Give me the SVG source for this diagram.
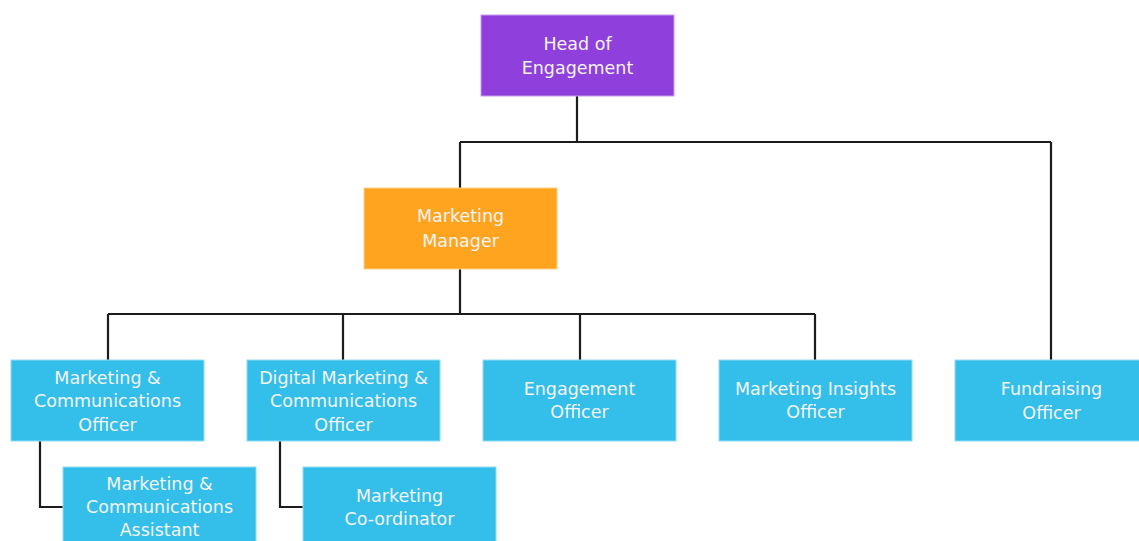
<svg xmlns="http://www.w3.org/2000/svg" width="1139" height="541" viewBox="0 0 1139 541">
  <style>
    .box { stroke-width: 1; }
    .head { fill: #8f40dc; stroke: #c69bf0; }
    .mgr { fill: #ffa41f; stroke: #ffd08a; }
    .staff { fill: #33bfea; stroke: #8fdcf5; }
    .label { font-family: "DejaVu Sans", "Liberation Sans", sans-serif; font-size: 17.5px; fill: #f4f4f4; text-anchor: middle; dominant-baseline: central; }
    .link { fill: none; stroke: #1c1c1c; stroke-width: 2.2; }
  </style>
  <rect width="1139" height="541" fill="#ffffff"/>

  <!-- reporting lines -->
  <g id="connectors">
    <path class="link" d="M577 96 V142 M460 142 H1051 M460 142 V188 M1051 142 V360"/>
    <path class="link" d="M460 269 V314 M108 314 H815 M108 314 V360 M343 314 V360 M580 314 V360 M815 314 V360"/>
    <path class="link" d="M40 441 V507 H63"/>
    <path class="link" d="M280 441 V507 H303"/>
  </g>

  <g id="head-of-engagement">
    <rect class="box head" x="481" y="15" width="193" height="81"/>
    <text class="label" x="577.5" y="44">Head of</text>
    <text class="label" x="577.5" y="68">Engagement</text>
  </g>

  <g id="marketing-manager">
    <rect class="box mgr" x="364" y="188" width="193" height="81"/>
    <text class="label" x="460.5" y="216">Marketing</text>
    <text class="label" x="460.5" y="241">Manager</text>
  </g>

  <g id="marcomms-officer">
    <rect class="box staff" x="11" y="360" width="193" height="81"/>
    <text class="label" x="107.5" y="378">Marketing &amp;</text>
    <text class="label" x="107.5" y="401">Communications</text>
    <text class="label" x="107.5" y="425">Officer</text>
  </g>

  <g id="digital-marcomms-officer">
    <rect class="box staff" x="247" y="360" width="193" height="81"/>
    <text class="label" x="343.5" y="378">Digital Marketing &amp;</text>
    <text class="label" x="343.5" y="401">Communications</text>
    <text class="label" x="343.5" y="425">Officer</text>
  </g>

  <g id="engagement-officer">
    <rect class="box staff" x="483" y="360" width="193" height="81"/>
    <text class="label" x="579.5" y="389">Engagement</text>
    <text class="label" x="579.5" y="412">Officer</text>
  </g>

  <g id="marketing-insights-officer">
    <rect class="box staff" x="719" y="360" width="193" height="81"/>
    <text class="label" x="815.5" y="389">Marketing Insights</text>
    <text class="label" x="815.5" y="412">Officer</text>
  </g>

  <g id="fundraising-officer">
    <rect class="box staff" x="955" y="360" width="193" height="81"/>
    <text class="label" x="1051.5" y="389">Fundraising</text>
    <text class="label" x="1051.5" y="413">Officer</text>
  </g>

  <g id="marcomms-assistant">
    <rect class="box staff" x="63" y="467" width="193" height="81"/>
    <text class="label" x="159.5" y="484">Marketing &amp;</text>
    <text class="label" x="159.5" y="507">Communications</text>
    <text class="label" x="159.5" y="530">Assistant</text>
  </g>

  <g id="marketing-coordinator">
    <rect class="box staff" x="303" y="467" width="193" height="81"/>
    <text class="label" x="399.5" y="496">Marketing</text>
    <text class="label" x="399.5" y="519">Co-ordinator</text>
  </g>
</svg>
